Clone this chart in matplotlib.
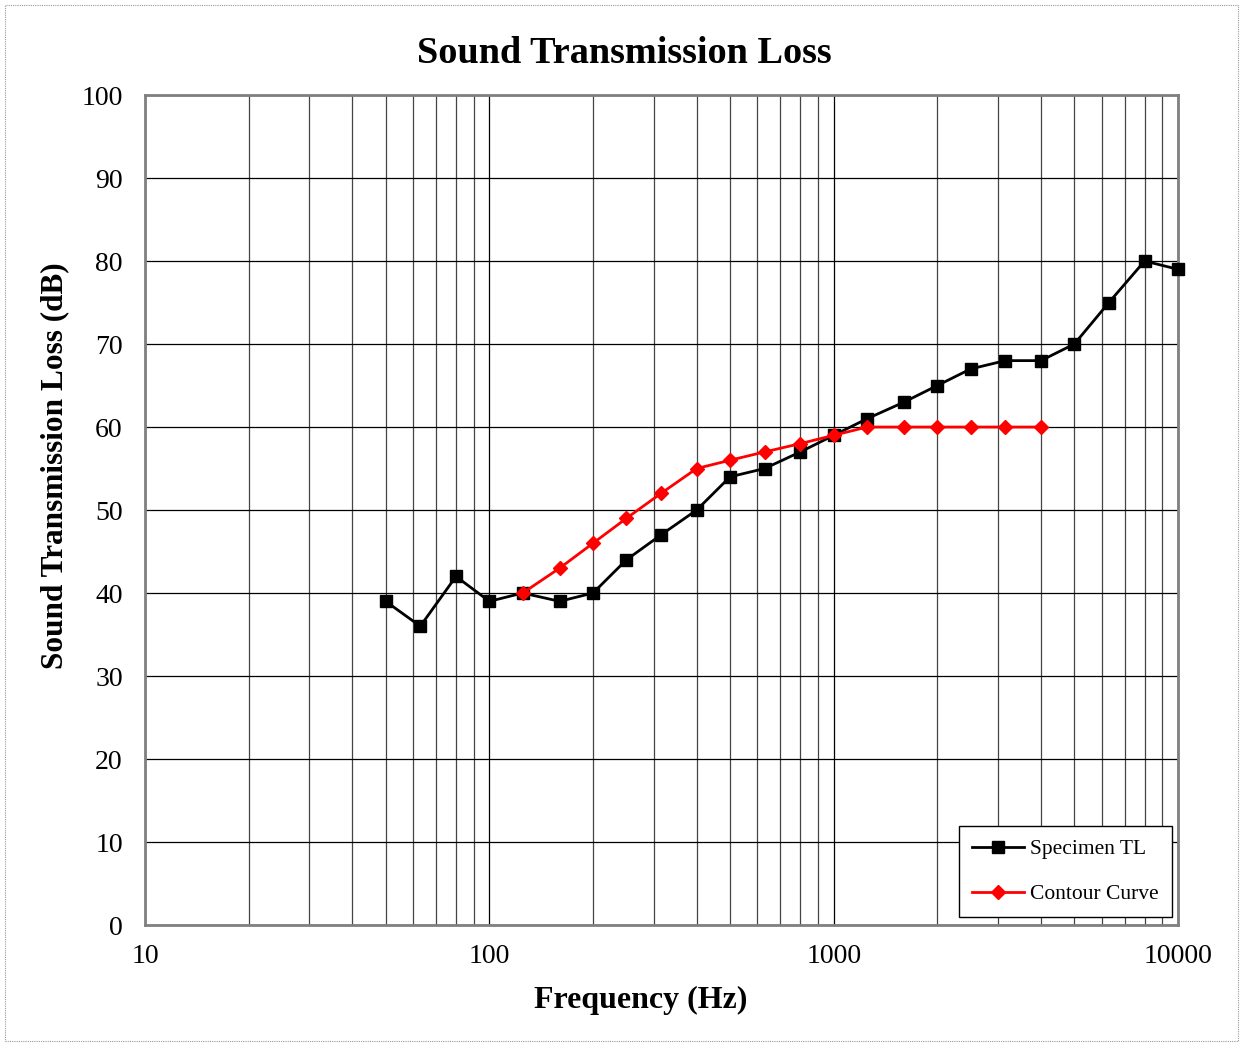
import matplotlib
matplotlib.use("Agg")
import matplotlib.pyplot as plt
from matplotlib.patches import Rectangle
from matplotlib.ticker import FixedLocator, NullFormatter

# 1/3 octave band centre frequencies
freq = [50, 63, 80, 100, 125, 160, 200, 250, 315, 400, 500, 630, 800,
        1000, 1250, 1600, 2000, 2500, 3150, 4000, 5000, 6300, 8000, 10000]
specimen_tl = [39, 36, 42, 39, 40, 39, 40, 44, 47, 50, 54, 55, 57,
               59, 61, 63, 65, 67, 68, 68, 70, 75, 80, 79]

contour_freq = [125, 160, 200, 250, 315, 400, 500, 630, 800,
                1000, 1250, 1600, 2000, 2500, 3150, 4000]
contour_tl = [40, 43, 46, 49, 52, 55, 56, 57, 58,
              59, 60, 60, 60, 60, 60, 60]

plt.rcParams['font.family'] = ['Liberation Serif', 'DejaVu Serif']

fig = plt.figure(figsize=(12.43, 10.43), dpi=100)
ax = fig.add_axes([0.1167, 0.1131, 0.8310, 0.7958])

# dotted border round the whole chart
fig.patches.append(Rectangle((0.004, 0.002), 0.992, 0.993, transform=fig.transFigure,
                             fill=False, edgecolor='#999999', linestyle=(0, (1, 1)),
                             linewidth=0.8))

ax.set_xscale('log')
ax.set_xlim(10, 10000)
ax.set_ylim(0, 100)
ax.set_yticks(range(0, 101, 10))
ax.xaxis.set_major_locator(FixedLocator([10, 100, 1000, 10000]))
ax.xaxis.set_minor_locator(FixedLocator([m * d for d in [10, 100, 1000] for m in range(2, 10)]))
ax.xaxis.set_minor_formatter(NullFormatter())
ax.set_xticklabels(['10', '100', '1000', '10000'])

ax.grid(True, which='major', color='black', linewidth=0.9)
ax.grid(True, which='minor', axis='x', color='#444444', linewidth=0.9)
ax.tick_params(which='both', length=0, labelsize=20)
ax.tick_params(axis='x', pad=14)
ax.tick_params(axis='y', pad=16)
for s in ax.spines.values():
    s.set_color('#808080')
    s.set_linewidth(2)

ax.plot(freq, specimen_tl, color='black', marker='s', markersize=9, linewidth=2,
        label='Specimen TL', zorder=4, clip_on=False)
ax.plot(contour_freq, contour_tl, color='red', marker='D', markersize=7, linewidth=2,
        label='Contour Curve', zorder=5, clip_on=False)

fig.suptitle('Sound Transmission Loss', fontsize=27.5, fontweight='bold',
             x=0.502, y=0.949, va='center')
ax.set_xlabel('Frequency (Hz)', fontsize=23, fontweight='bold')
ax.xaxis.set_label_coords(0.48, -0.073)
ax.set_ylabel('Sound Transmission Loss (dB)', fontsize=22.5, fontweight='bold')
ax.yaxis.set_label_coords(-0.073, 0.554)

leg = ax.legend(loc='lower right', fontsize=15.5, frameon=True, fancybox=False,
                edgecolor='black', framealpha=1, handlelength=2.4, handletextpad=0.3,
                labelspacing=1.15, borderpad=0.6, borderaxespad=0,
                bbox_to_anchor=(0.9942, 0.0096))
leg.get_frame().set_linewidth(1)

fig.savefig('out.png', dpi=100)
